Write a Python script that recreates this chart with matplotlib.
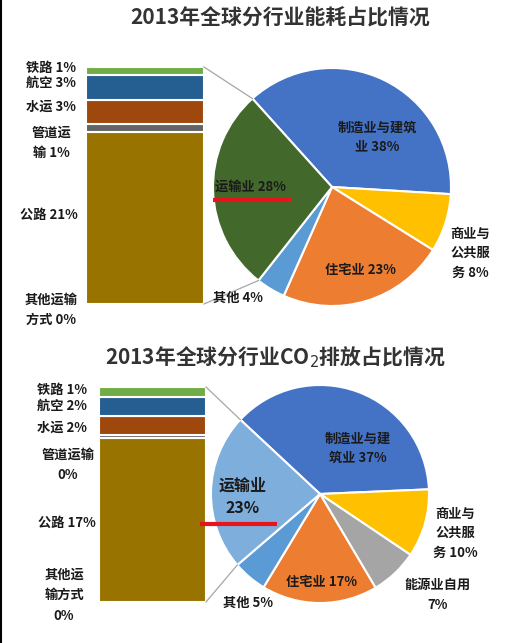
import numpy as np
import matplotlib
matplotlib.use('Agg')
import matplotlib.pyplot as plt
from matplotlib.lines import Line2D

plt.rcParams['font.family'] = ['Noto Sans CJK SC', 'DejaVu Sans']

H = 643  # figure height in px, used to flip y (pixel rows run downward)

# ---- chart 1: energy use by sector, 2013 ----
title1 = '2013年全球分行业能耗占比情况'
pie1_labels = ['制造业与建筑\n业 38%', '商业与\n公共服\n务 8%', '住宅业 23%', '其他 4%', '运输业 28%']
pie1_values = [38, 8, 23, 4, 28]
pie1_colors = ['#4472C4', '#FFC000', '#ED7D31', '#5B9BD5', '#43682B']
bar1_labels = ['其他运输\n方式 0%', '公路 21%', '管道运\n输 1%', '水运 3%', '航空 3%', '铁路 1%']
bar1_values = [0, 21, 1, 3, 3, 1]

# ---- chart 2: CO2 emissions by sector, 2013 ----
title2 = '2013年全球分行业CO$_2$排放占比情况'
pie2_labels = ['制造业与建\n筑业 37%', '商业与\n公共服\n务 10%', '能源业自用\n7%', '住宅业 17%',
               '其他 5%', '运输业\n23%']
pie2_values = [37, 10, 7, 17, 5, 23]
pie2_colors = ['#4472C4', '#FFC000', '#A5A5A5', '#ED7D31', '#5B9BD5', '#7DAEDC']
bar2_labels = ['其他运\n输方式\n0%', '公路 17%', '管道运输\n0%', '水运 2%', '航空 2%', '铁路 1%']
bar2_values = [0, 17, 0.3, 2, 2, 1]

bar_colors = ['#7F6000', '#997300', '#636363', '#9E480E', '#255E91', '#70AD47']

fig = plt.figure(figsize=(5.2, 6.43), dpi=100)
ax = fig.add_axes([0, 0, 1, 1])

txt = '#1a1a1a'


def draw_block(title, title_xy, pvals, pcolors, plabels, label_xy, center, r, start,
               bvals, blabels, blabel_xy, bar_x, bar_w, bar_top, bar_bot, red,
               transport_fs=9.5):
    cx, cy = center[0], H - center[1]
    wedges, _ = ax.pie(pvals, colors=pcolors, startangle=start, counterclock=False,
                       center=(cx, cy), radius=r,
                       wedgeprops=dict(edgecolor='white', linewidth=1.5))
    for i, (lab, (x, y)) in enumerate(zip(plabels, label_xy)):
        fs = transport_fs if i == len(plabels) - 1 else 9.5
        ax.text(x, H - y, lab, ha='center', va='center', fontsize=fs,
                fontweight='bold', color=txt, linespacing=1.5)
    # stacked bar (transport breakdown)
    scale = (bar_bot - bar_top) / sum(bvals)
    bottom = H - bar_bot
    for v, c in zip(bvals, bar_colors):
        ax.bar(bar_x, v * scale, bottom=bottom, width=bar_w, color=c,
               edgecolor='white', linewidth=1.5, align='edge')
        bottom += v * scale
    for lab, (x, y) in zip(blabels, blabel_xy):
        ax.text(x, H - y, lab, ha='center', va='center', fontsize=9.5,
                fontweight='bold', color=txt, linespacing=1.6)
    # connector lines from bar corners to the transport wedge edges
    w = wedges[-1]
    angs = sorted([w.theta1, w.theta2], key=lambda a: np.sin(np.radians(a)), reverse=True)
    for ang, by in zip(angs, [bar_top, bar_bot]):
        px = cx + r * np.cos(np.radians(ang))
        py = cy + r * np.sin(np.radians(ang))
        ax.plot([bar_x + bar_w, px], [H - by, py], color='#A6A6A6', lw=0.9)
    ax.plot(red[0], [H - red[1]] * 2, color='#E8141B', lw=3, solid_capstyle='butt')
    ax.text(title_xy[0], H - title_xy[1], title, ha='center', va='center',
            fontsize=15, fontweight='bold', color='#333333')


draw_block(title1, (280, 18), pie1_values, pie1_colors, pie1_labels,
           [(377, 137), (470, 253), (360, 270), (238, 298), (250, 187)],
           (332, 187), 119, 132,
           bar1_values, bar1_labels,
           [(51, 310), (49, 215), (51, 143), (51, 107), (51, 83), (51, 68)],
           86, 118, 67, 304, ((213, 291), 200))

draw_block(title2, (275, 357), pie2_values, pie2_colors, pie2_labels,
           [(358, 448), (455, 533), (438, 595), (322, 582), (248, 603), (243, 497)],
           (320, 494), 109, 137,
           bar2_values, bar2_labels,
           [(64, 595), (67, 523), (68, 465), (62, 428), (62, 406), (62, 390)],
           99, 107, 387, 602, ((200, 277), 524), transport_fs=11.5)

ax.set_xlim(0, 520)
ax.set_ylim(0, H)
ax.set_aspect('auto')
ax.axis('off')
fig.add_artist(Line2D([0.002, 0.002], [0, 1], color='black', lw=1.5))

fig.savefig('out.png', dpi=100)
